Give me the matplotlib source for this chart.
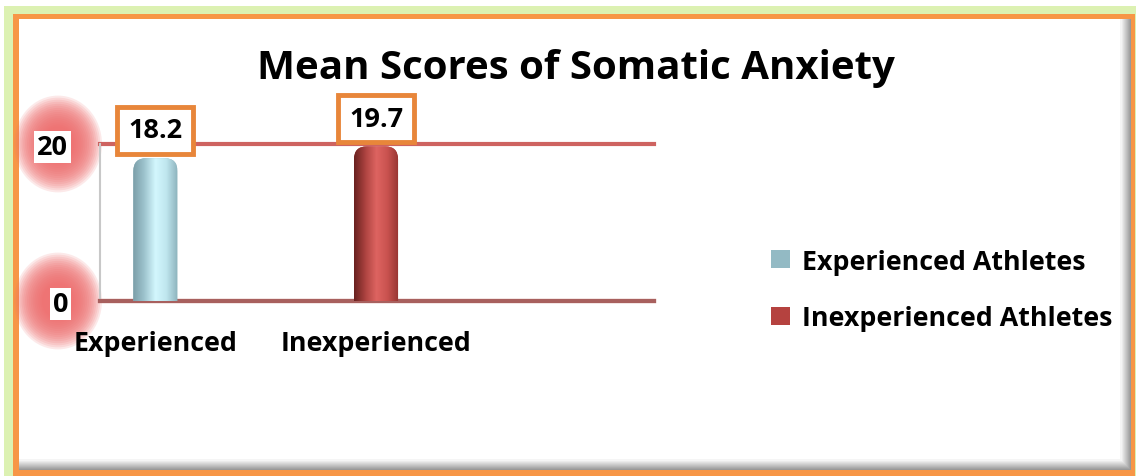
import numpy as np
import matplotlib
matplotlib.use("Agg")
import matplotlib.pyplot as plt
from matplotlib.patches import Rectangle, Ellipse, PathPatch
from matplotlib.path import Path
from matplotlib.transforms import IdentityTransform
from matplotlib.colors import LinearSegmentedColormap

categories = ["Experienced", "Inexperienced"]
series_names = ["Experienced Athletes", "Inexperienced Athletes"]
scores = [18.2, 19.7]
y_ticks = [0, 20]

W, H = 1136, 477
plt.rcParams["font.family"] = ["Open Sans", "DejaVu Sans"]
plt.rcParams["font.weight"] = "bold"

blue_cols = ["#7c9fa9", "#9ec4ce", "#d3f7fe", "#bfe6ee", "#8db3bd"]
red_cols = ["#6a2220", "#ad4340", "#de6461", "#c9524f", "#963532"]
legend_cols = ["#93bac4", "#b5423f"]


def px_rect(x, y_top, w, h, **kw):
    # rectangle in pixel coords measured from the top left
    return Rectangle((x, H - y_top - h), w, h, transform=IdentityTransform(), **kw)


def rounded_top_path(x0, y0, x1, y1, r):
    verts = [(x0, y0), (x0, y1 - r), (x0, y1), (x0 + r, y1),
             (x1 - r, y1), (x1, y1), (x1, y1 - r), (x1, y0), (x0, y0)]
    codes = [Path.MOVETO, Path.LINETO, Path.CURVE3, Path.CURVE3,
             Path.LINETO, Path.CURVE3, Path.CURVE3, Path.LINETO, Path.CLOSEPOLY]
    return Path(verts, codes)


fig = plt.figure(figsize=(W / 100, H / 100), dpi=100)
fig.patch.set_facecolor("white")

# frame: green backdrop, orange border, white panel with soft shadow
fig.patches.append(px_rect(4, 7, W - 4, H - 7, fc="#dcf1b2", ec="none", zorder=-20))
fig.patches.append(px_rect(13, 15, W - 14, H - 15, fc="#f79646", ec="none", zorder=-19))
for i in range(10):
    g = 0.60 + 0.04 * i
    fig.patches.append(px_rect(19, 20, 1112 - i, 451 - i, fc=(g, g, g), ec="none", zorder=-18 + i * 0.1))
fig.patches.append(px_rect(19, 20, 1101, 440, fc="white", ec="none", zorder=-16))

ax = fig.add_axes([100 / W, 1 - 302 / H, 554 / W, 157 / H])
ax.patch.set_visible(False)

xs = np.arange(len(categories))
bars = []
for i, name in enumerate(series_names):
    b = ax.bar(xs[i], scores[i], width=0.2, color=legend_cols[i], label=name, zorder=3)
    bars.append(b[0])

ax.set_xlim(-0.251, 2.26)
ax.set_ylim(0, 20)
ax.set_yticks(y_ticks)
ax.set_xticks(xs)
ax.set_xticklabels(categories, fontsize=19.3, fontweight="bold")
ax.tick_params(axis="x", length=0, pad=21)
ax.tick_params(axis="y", length=0, pad=23, labelsize=19.5)
for lbl in ax.get_yticklabels():
    lbl.set_fontweight("bold")
    lbl.set_bbox(dict(fc="white", ec="none", pad=2))

ax.yaxis.grid(True, color="#c9524f", lw=3, alpha=0.9)
ax.set_axisbelow(True)
for g in ax.get_ygridlines():
    g.set_clip_on(False)
for s in ["top", "right"]:
    ax.spines[s].set_visible(False)
ax.spines["bottom"].set_color("#a8605e")
ax.spines["bottom"].set_linewidth(3)
ax.spines["left"].set_color("#c8c8c8")
ax.spines["left"].set_linewidth(1.5)

fig.canvas.draw()

# shaded cylinder-like bars with rounded tops
for bar, cols in zip(bars, [blue_cols, red_cols]):
    (x0, y0), (x1, y1) = ax.transData.transform([(bar.get_x(), 0),
                                                 (bar.get_x() + bar.get_width(), bar.get_height())])
    clip = PathPatch(rounded_top_path(x0, y0, x1, y1, 13), transform=IdentityTransform(),
                     fc="none", ec="none")
    ax.add_patch(clip)
    bar.set_clip_path(clip)
    cmap = LinearSegmentedColormap.from_list("c", cols)
    grad = np.linspace(0, 1, 64).reshape(1, -1)
    im = ax.imshow(grad, cmap=cmap, aspect="auto", zorder=4,
                   extent=[bar.get_x(), bar.get_x() + bar.get_width(), 0, bar.get_height()])
    im.set_clip_path(clip)

ax.set_xlim(-0.251, 2.26)
ax.set_ylim(0, 20)

# value labels
for bar, v in zip(bars, scores):
    ax.annotate(f"{v}", (bar.get_x() + bar.get_width() / 2, v), xytext=(0, 20),
                textcoords="offset points", ha="center", va="center",
                fontsize=19.5, fontweight="bold", zorder=6, annotation_clip=False,
                bbox=dict(boxstyle="square,pad=0.4", fc="white", ec="#e8863a", lw=3.5))

# red glow behind the y tick labels
for t in y_ticks:
    cy = ax.transData.transform((0, t))[1]
    for r in np.linspace(44, 16, 16):
        fig.patches.append(Ellipse((58, cy), 2 * r, 2.2 * r, transform=IdentityTransform(),
                                   fc="#ee6a6a", ec="none", alpha=0.14, zorder=-10))

fig.text(575.5 / W, 1 - 68 / H, "Mean Scores of Somatic Anxiety",
         ha="center", va="center", fontsize=29, fontweight="bold")

leg = ax.legend(loc="center left", bbox_to_anchor=(771 / W, 1 - 291 / H),
                bbox_transform=fig.transFigure, frameon=False, prop=dict(size=19.3, weight="bold"),
                handlelength=0.72, handleheight=0.62, handletextpad=0.42,
                labelspacing=1.15, borderpad=0, borderaxespad=0)

fig.savefig("out.png", dpi=100)
